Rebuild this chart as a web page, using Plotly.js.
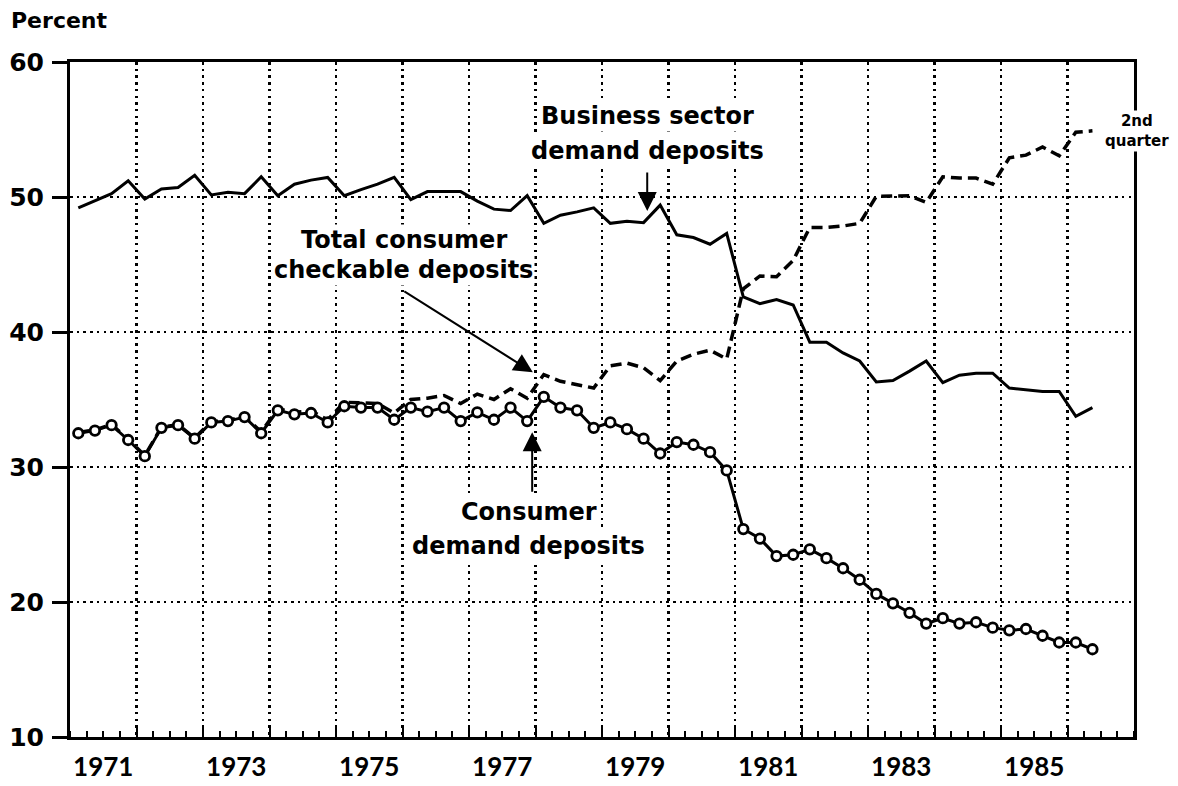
<!DOCTYPE html>
<html><head><meta charset="utf-8">
<script src="https://cdn.plot.ly/plotly-3.0.1.min.js"></script>
<style>html,body{margin:0;padding:0;background:#fff}#chart{width:1178px;height:786px}</style>
</head><body><div id="chart"></div>
<script>
// Quarterly shares (percent), 1971 Q1 .. 1986 Q2
const startYear = 1971;
const businessDemand = [
  49.2, 49.75, 50.25, 51.2,
  49.85, 50.6, 50.7, 51.6,
  50.15, 50.35, 50.25, 51.5,
  50.1, 50.95, 51.25, 51.45,
  50.1, 50.55, 50.95, 51.45,
  49.8, 50.4, 50.4, 50.4,
  49.7, 49.1, 49.0, 50.1,
  48.05, 48.65, 48.9, 49.2,
  48.05, 48.2, 48.1, 49.4,
  47.2, 47.0, 46.5, 47.3,
  42.6, 42.1, 42.4, 42.0,
  39.25, 39.25, 38.45, 37.85,
  36.3, 36.4, 37.1, 37.85,
  36.25, 36.8, 36.95, 36.95,
  35.85, 35.7, 35.6, 35.6,
  33.75, 34.4
];
const consumerDemand = [
  32.5, 32.7, 33.1, 32.0,
  30.8, 32.9, 33.1, 32.1,
  33.3, 33.4, 33.7, 32.5,
  34.2, 33.9, 34.0, 33.3,
  34.5, 34.4, 34.4, 33.5,
  34.4, 34.1, 34.4, 33.4,
  34.05, 33.5, 34.4, 33.4,
  35.2, 34.4, 34.2, 32.9,
  33.3, 32.8, 32.1, 31.0,
  31.85, 31.65, 31.1, 29.75,
  25.4, 24.7, 23.4, 23.5,
  23.9, 23.25, 22.5, 21.65,
  20.6, 19.9, 19.2, 18.4,
  18.8, 18.4, 18.5, 18.1,
  17.9, 18.0, 17.5, 17.0,
  17.0, 16.5
];
const totalConsumerCheckable = [
  32.55, 32.75, 33.15, 32.05,
  30.85, 32.95, 33.15, 32.15,
  33.35, 33.45, 33.75, 32.6,
  34.3, 34.05, 34.15, 33.5,
  34.8, 34.75, 34.7, 34.0,
  35.0, 35.1, 35.3, 34.7,
  35.4, 35.0, 35.8, 35.1,
  36.85, 36.35, 36.1, 35.85,
  37.5, 37.7, 37.35, 36.4,
  37.85, 38.35, 38.65, 38.0,
  43.2, 44.15, 44.1, 45.3,
  47.75, 47.75, 47.85, 48.05,
  50.05, 50.05, 50.1, 49.6,
  51.5, 51.4, 51.4, 50.95,
  52.9, 53.1, 53.7, 53.05,
  54.8, 54.9
];
const labelYears = [1971, 1973, 1975, 1977, 1979, 1981, 1983, 1985];
const yearLabels = ['1971', '1973', '1975', '1977', '1979', '1981', '1983', '1985'];
const yTicks = [10, 20, 30, 40, 50, 60];

// x position of each quarter: middle of the quarter
const quarterX = businessDemand.map((_, i) => startYear + Math.floor(i / 4) + ((i % 4) + 0.5) / 4);

const DJ = '"DejaVu Sans", "Open Sans", sans-serif';
const LATO = 'Lato, "Open Sans", sans-serif';
const txtFont = {family: DJ, size: 24, color: '#000', weight: 'bold'};
const smallFont = {family: DJ, size: 15, color: '#000', weight: 'bold'};
const gridDash = '2.5px,4.2px';

const traces = [
  {x: quarterX, y: totalConsumerCheckable, mode: 'lines', line: {color: '#000', width: 3.5, dash: '11px,6px'}, hoverinfo: 'skip'},
  {x: quarterX, y: businessDemand, mode: 'lines', line: {color: '#000', width: 3}, hoverinfo: 'skip'},
  {x: quarterX, y: consumerDemand, mode: 'lines+markers', line: {color: '#000', width: 3},
   marker: {symbol: 'circle', size: 9.5, color: '#fff', line: {color: '#000', width: 2.8}}, hoverinfo: 'skip'},
  {x: [], y: [], xaxis: 'x2', yaxis: 'y', mode: 'lines', hoverinfo: 'skip'}
];

function label(x, y, text, font) {
  return {x: x, y: y, text: text, showarrow: false, font: font || txtFont,
          bgcolor: '#fff', borderpad: 1, xanchor: 'center', yanchor: 'middle'};
}
function arrow(x, y, ax, ay) {
  return {x: x, y: y, text: '', showarrow: true, ax: ax, ay: ay, arrowhead: 2,
          arrowsize: 1.9, arrowwidth: 2, arrowcolor: '#000', standoff: 0};
}

const layout = {
  width: 1178, height: 786,
  margin: {l: 70, r: 44, t: 62, b: 49, pad: 0},
  paper_bgcolor: '#fff', plot_bgcolor: '#fff',
  showlegend: false,
  xaxis: {
    range: [1971, 1987], tickmode: 'array',
    tickvals: labelYears.map(v => v + 0.5), ticktext: yearLabels,
    ticks: '', showgrid: false, zeroline: false,
    showline: true, linecolor: '#000', linewidth: 3, mirror: true,
    tickfont: {family: LATO, size: 26, color: '#000', weight: 'bold'},
    ticklabelstandoff: 5,
    minor: {tickmode: 'linear', tick0: 1971, dtick: 0.25, ticks: 'inside', ticklen: 6, tickwidth: 2, tickcolor: '#000', showgrid: false}
  },
  xaxis2: {
    overlaying: 'x', anchor: 'y', side: 'bottom',
    range: [1971, 1987], tickmode: 'linear', tick0: 1972, dtick: 1,
    ticks: 'inside', ticklen: 9, tickwidth: 2, tickcolor: '#000',
    showgrid: true, gridcolor: '#000', gridwidth: 2.5, griddash: gridDash,
    showticklabels: false, showline: false, zeroline: false
  },
  yaxis: {
    range: [10, 60], tickmode: 'array', tickvals: yTicks,
    ticks: 'outside', ticklen: 15, tickwidth: 3, tickcolor: '#000',
    showgrid: true, gridcolor: '#000', gridwidth: 2.5, griddash: gridDash,
    showline: true, linecolor: '#000', linewidth: 3, mirror: true, zeroline: false,
    tickfont: {family: DJ, size: 25, color: '#000', weight: 'bold'},
    ticklabelstandoff: 3
  },
  annotations: [
    {xref: 'paper', yref: 'paper', x: -0.0094, y: 1.062, xanchor: 'center', yanchor: 'middle',
     text: 'Percent', showarrow: false, font: {family: DJ, size: 22, color: '#000', weight: 'bold'}},
    label(1979.68, 55.98, 'Business sector'),
    label(1979.68, 53.39, 'demand deposits'),
    label(1976.02, 46.79, 'Total consumer'),
    label(1976.02, 44.62, 'checkable deposits'),
    label(1977.90, 26.64, 'Consumer'),
    label(1977.90, 24.13, 'demand deposits'),
    {xref: 'paper', yref: 'paper', x: 1.0028, y: 0.898, text: '2nd<br>quarter', showarrow: false,
     font: smallFont, bgcolor: '#fff', borderpad: 1, xanchor: 'center', yanchor: 'middle', align: 'center'},
    arrow(1979.68, 48.96, 0, -40),
    arrow(1977.96, 37.01, -130, -82),
    arrow(1977.95, 32.57, 0, 61)
  ]
};

Plotly.newPlot('chart', traces, layout, {staticPlot: true, displayModeBar: false});
</script>
</body></html>
